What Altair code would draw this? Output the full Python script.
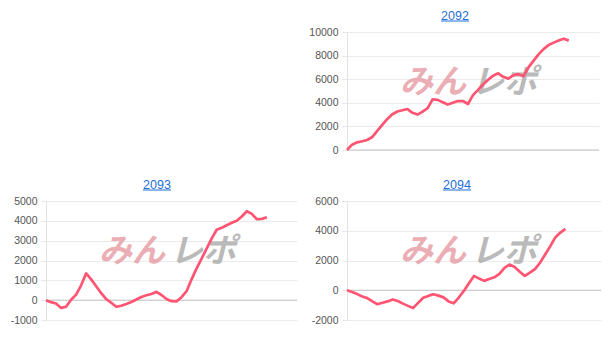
import altair as alt
import pandas as pd

titles = ["2092", "2093", "2094"]

v2092 = [0, 450, 650, 740, 850, 1100, 1615, 2125, 2635, 3030, 3260, 3370, 3470, 3150, 3000,
         3250, 3550, 4300, 4250, 4050, 3850, 4000, 4150, 4150, 3900, 4650, 5100, 5550, 5950,
         6300, 6500, 6200, 6050, 6330, 6430, 6250, 7000, 7550, 8100, 8550, 8900, 9100, 9280,
         9430, 9270]

v2093 = [0, -100, -170, -390, -330, 20, 280, 750, 1350, 1050, 700, 350, 50, -130, -330,
         -280, -190, -90, 30, 160, 250, 310, 420, 260, 60, -50, -60, 150, 450, 1050, 1600,
         2100, 2600, 3100, 3550, 3650, 3780, 3900, 4000, 4220, 4480, 4350, 4080, 4100, 4180]

v2094 = [0, -120, -260, -420, -530, -750, -940, -840, -750, -620, -720, -900, -1050, -1200,
         -850, -500, -380, -270, -360, -480, -750, -880, -490, -45, 470, 965, 785, 630, 760,
         870, 1100, 1500, 1730, 1560, 1250, 960, 1180, 1420, 1850, 2400, 2950, 3550, 3880,
         4120]

y_domains = [[0, 10000], [-1000, 5000], [-2000, 6000]]
y_ticks = [[0, 2000, 4000, 6000, 8000, 10000],
           [-1000, 0, 1000, 2000, 3000, 4000, 5000],
           [-2000, 0, 2000, 4000, 6000]]
x_slots = 50

LINE = "#ff5573"
FONT = "Liberation Sans"


def panel(title, values, ydom, yticks, w, h, tx):
    df = pd.DataFrame({"i": list(range(len(values))), "v": values})
    yscale = alt.Scale(domain=ydom, nice=False, zero=False)
    line = alt.Chart(df).mark_line(color=LINE, strokeWidth=2.7, strokeJoin="round").encode(
        x=alt.X("i:Q", scale=alt.Scale(domain=[0, x_slots], nice=False, zero=False), axis=None),
        y=alt.Y("v:Q", scale=yscale,
                axis=alt.Axis(values=yticks, tickCount=len(yticks), title=None, labelFont=FONT,
                              labelFontSize=10.5, labelExpr="datum.value + ''",
                              labelOverlap=False, labelColor="#555555", tickColor="#e6e6e6",
                              tickSize=5, labelPadding=4, domainColor="#e3e3e3",
                              gridColor="#ebebeb")),
    )
    zero = alt.Chart(pd.DataFrame({"z": [0]})).mark_rule(color="#c4c4c4", strokeWidth=1).encode(
        y=alt.Y("z:Q", scale=yscale)
    )
    wm1 = alt.Chart(pd.DataFrame({"t": ["みん"]})).mark_text(
        font="Noto Sans CJK JP", fontSize=33, fontWeight="bold", fontStyle="italic",
        color="#e69aa2", opacity=0.8, align="center", baseline="middle"
    ).encode(text="t:N", x=alt.value(86), y=alt.value(51))
    wm2 = alt.Chart(pd.DataFrame({"t": ["レポ"]})).mark_text(
        font="Noto Sans CJK JP", fontSize=33, fontWeight="bold", fontStyle="italic",
        color="#a9a9a9", opacity=0.8, align="center", baseline="middle"
    ).encode(text="t:N", x=alt.value(157), y=alt.value(51))
    ttl = alt.Chart(pd.DataFrame({"t": [title]})).mark_text(
        font=FONT, fontSize=12.5, color="#1f6fd6", align="center", baseline="middle"
    ).encode(text="t:N", x=alt.value(tx), y=alt.value(-16))
    ul = alt.Chart(pd.DataFrame({"t": [title]})).mark_rule(color="#1f6fd6", strokeWidth=1).encode(
        x=alt.value(tx - 14), x2=alt.value(tx + 14), y=alt.value(-11)
    )
    return alt.layer(wm1, wm2, zero, line, ttl, ul).properties(width=w, height=h)


p2092 = panel(titles[0], v2092, y_domains[0], y_ticks[0], 252, 118, 108)
p2093 = panel(titles[1], v2093, y_domains[1], y_ticks[1], 251, 119, 111)
p2094 = panel(titles[2], v2094, y_domains[2], y_ticks[2], 254, 119, 110)

empty = alt.Chart(pd.DataFrame({"t": [""]})).mark_text().encode(text="t:N").properties(
    width=100, height=10
)

chart = alt.concat(
    empty, p2092, p2093, p2094, columns=2, align="each",
    spacing={"row": 23, "column": 10}
).properties(
    padding={"left": 10, "top": 10, "right": 5, "bottom": 5}
).configure_view(stroke=None)

chart.save("out.html", embed_options={"renderer": "svg", "actions": False})
